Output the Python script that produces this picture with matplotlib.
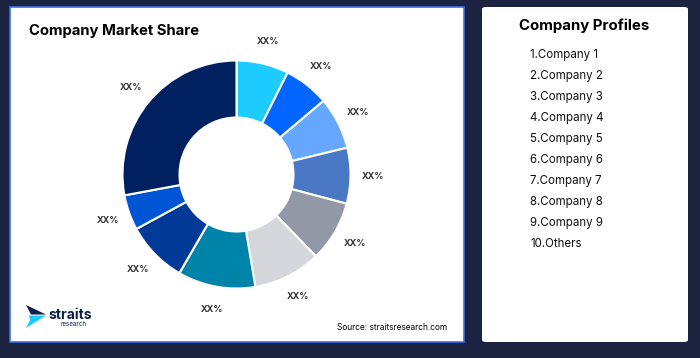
import matplotlib.pyplot as plt
from matplotlib.patches import Rectangle, FancyBboxPatch, Polygon

# market share per company, clockwise from 12 o'clock
companies = ['Company 1', 'Company 2', 'Company 3', 'Company 4', 'Company 5',
             'Company 6', 'Company 7', 'Company 8', 'Company 9', 'Others']
shares = [7.4, 6.4, 7.4, 7.9, 8.6, 9.6, 11.0, 8.7, 5.0, 27.9]
labels = ['XX%'] * len(shares)
colors = ['#1ECBFF', '#0066FF', '#66A8FF', '#4A78C4', '#9298A6',
          '#D4D6DC', '#0083A8', '#003A96', '#0055D4', '#002060']

BG = '#1B2341'
W, H = 700, 358


def px_box(x0, y0, x1, y1):
    """pixel box (top-left origin) -> figure fraction (left, bottom, w, h)"""
    return x0 / W, 1 - y1 / H, (x1 - x0) / W, (y1 - y0) / H


def plot():
    plt.rcParams['font.family'] = ['Inter', 'DejaVu Sans']
    fig = plt.figure(figsize=(7, 3.58), dpi=100, facecolor=BG)

    # left panel
    l, b, w, h = px_box(10, 7, 464, 342)
    fig.patches.append(Rectangle((l, b), w, h, transform=fig.transFigure,
                                 facecolor='white', edgecolor='#3F6FE0', lw=1.2,
                                 zorder=-2))
    # right panel
    l, b, w, h = px_box(482, 7, 688, 342)
    fig.patches.append(FancyBboxPatch((l, b), w, h, transform=fig.transFigure,
                                      boxstyle='round,pad=0,rounding_size=0.006',
                                      facecolor='white', edgecolor='none', zorder=-2))

    # donut
    cx, cy, r = 236.5, 174.5, 114
    lim = 1.4
    ax = fig.add_axes(px_box(cx - lim * r, cy - lim * r, cx + lim * r, cy + lim * r))
    ax.set_zorder(2)
    ax.pie(shares, colors=colors, labels=labels, startangle=90, counterclock=False,
           labeldistance=1.2, radius=1,
           wedgeprops=dict(width=0.5, edgecolor='white', linewidth=1.5),
           textprops=dict(fontsize=6.5, color='#333333', fontweight='bold'))
    for t in ax.texts:
        t.set_horizontalalignment('center')
    ax.set_xlim(-lim, lim)
    ax.set_ylim(-lim, lim)
    ax.axis('off')

    fig.text(29 / W, 1 - 30.5 / H, 'Company Market Share', fontsize=10.7,
             fontweight='bold', color='black', va='center', ha='left')

    # source + logo
    fig.text(447 / W, 1 - 328 / H, 'Source: straitsresearch.com', fontsize=6,
             color='black', ha='right', va='center')
    dark = [(26, 305), (46, 314.5), (31, 314.5)]
    cyan = [(29, 315.5), (46, 315.5), (26, 328), (30, 320)]
    for pts, col in ((dark, '#0B1F4D'), (cyan, '#1ECBFF')):
        fig.patches.append(Polygon([(x / W, 1 - y / H) for x, y in pts],
                                   closed=True, transform=fig.transFigure,
                                   facecolor=col, edgecolor='none'))
    fig.text(48 / W, 1 - 315 / H, 'straits', fontsize=10, fontweight='bold',
             color='#0B1F4D', ha='left', va='center')
    fig.text(87 / W, 1 - 324.5 / H, 'research', fontsize=4.5,
             color='#0B1F4D', ha='right', va='center')

    # company list
    fig.text(584 / W, 1 - 25.5 / H, 'Company Profiles', fontsize=10.8,
             fontweight='bold', color='black', ha='center', va='center')
    for i, name in enumerate(companies):
        fig.text(530.5 / W, 1 - (55 + 21 * i) / H, f'{i + 1}.{name}', fontsize=8.3,
                 color='#111111', ha='left', va='center')

    fig.savefig('out.png', dpi=100, facecolor=BG)


if __name__ == '__main__':
    plot()
